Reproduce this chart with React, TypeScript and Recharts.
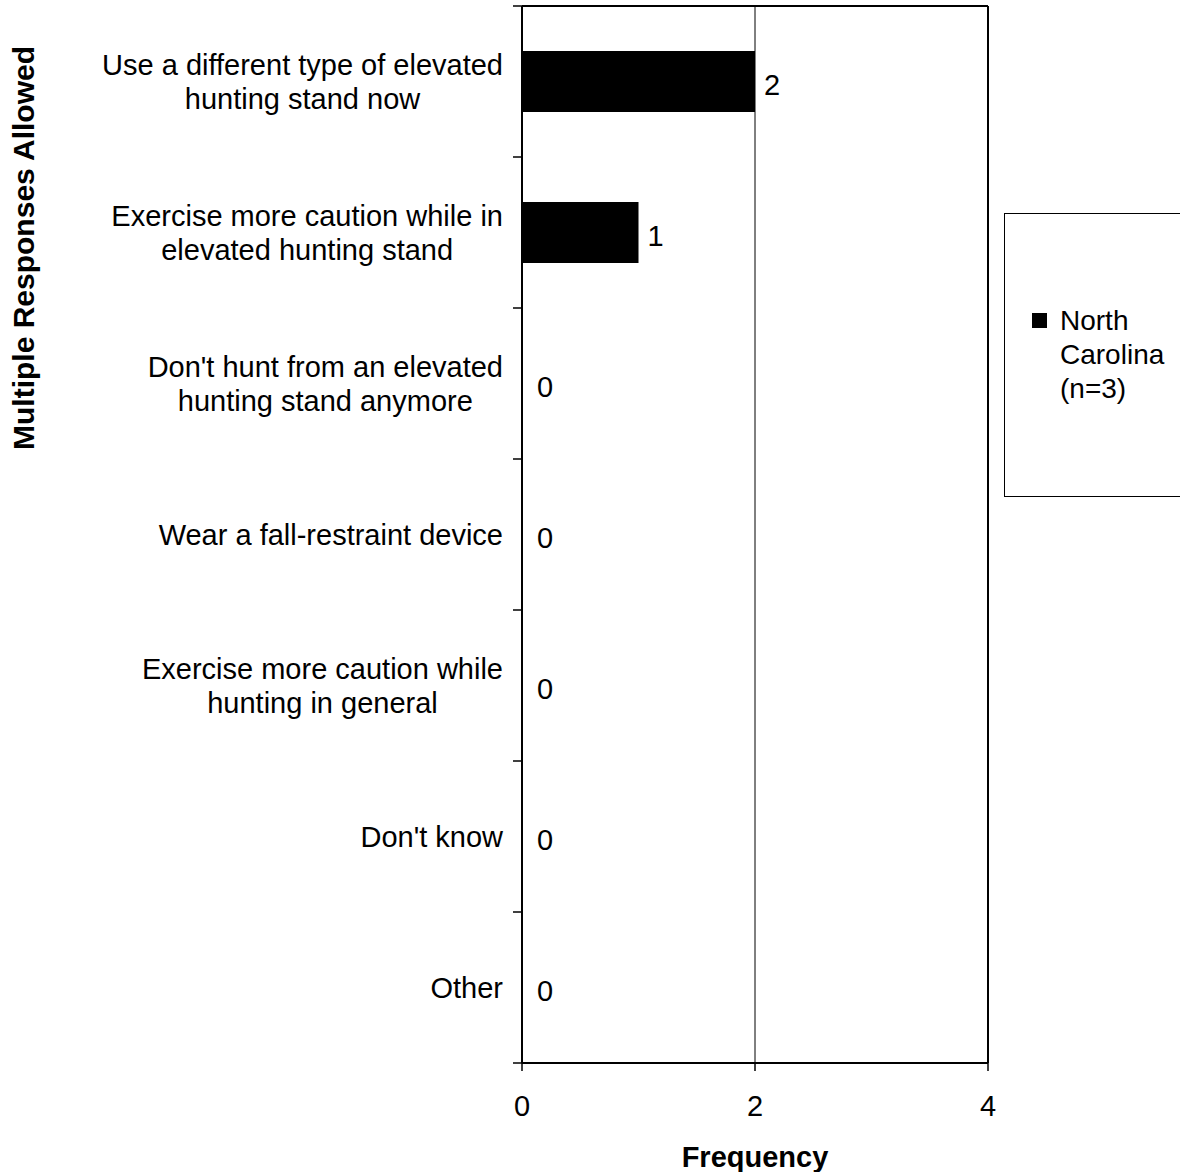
import React from "react";
import {
  BarChart,
  Bar,
  XAxis,
  YAxis,
  CartesianGrid,
  Legend,
  LabelList,
} from "recharts";

const categories = [
  "Use a different type of elevated\nhunting stand now",
  "Exercise more caution while in\nelevated hunting stand",
  "Don't hunt from an elevated\nhunting stand anymore",
  "Wear a fall-restraint device",
  "Exercise more caution while\nhunting in general",
  "Don't know",
  "Other",
];
const northCarolina = [2, 1, 0, 0, 0, 0, 0];
const xTicks = [0, 2, 4];

const seriesName = "North Carolina (n=3)";
const FONT = "Liberation Sans, Arial, sans-serif";

const data = categories.map((name, i) => ({ name, nc: northCarolina[i] }));

let ctx: CanvasRenderingContext2D | null = null;
function textWidth(t: string, size: number) {
  if (!ctx) ctx = document.createElement("canvas").getContext("2d");
  if (!ctx) return t.length * size * 0.5;
  ctx.font = `${size}px "Liberation Sans"`;
  return ctx.measureText(t).width;
}

/** category label + tick mark on the band boundary */
function CategoryTick(props: any) {
  const { x, y, payload, index, visibleTicksCount } = props;
  const half = payload.offset ?? 75.5;
  const lines = String(payload.value).split("\n");
  const size = 29;
  const lh = 34;
  const maxW = Math.max(...lines.map((l) => textWidth(l, size)));
  const cx = x - 19 - maxW / 2;
  const last = index === visibleTicksCount - 1;
  return (
    <g>
      <line x1={x - 9} x2={x} y1={y - half} y2={y - half} stroke="#000" strokeWidth={1.5} />
      {last && (
        <line x1={x - 9} x2={x} y1={y + half} y2={y + half} stroke="#000" strokeWidth={1.5} />
      )}
      {lines.map((l, i) => (
        <text
          key={i}
          x={cx}
          y={y + (i - (lines.length - 1) / 2) * lh + 10}
          textAnchor="middle"
          fontSize={size}
          fontFamily={FONT}
          fill="#000"
        >
          {l}
        </text>
      ))}
    </g>
  );
}

function ValueLabel(props: any) {
  const { x, y, width, height, value } = props;
  const gap = Number(value) === 0 ? 14 : 9;
  return (
    <text
      x={x + width + gap}
      y={y + height / 2 + 13}
      fontSize={29}
      fontFamily={FONT}
      fill="#000"
    >
      {value}
    </text>
  );
}

function LegendBox(props: any) {
  const { payload = [] } = props;
  return (
    <div
      style={{
        width: "100%",
        height: "100%",
        boxSizing: "border-box",
        border: "1px solid #000",
        display: "flex",
        alignItems: "center",
        fontFamily: FONT,
      }}
    >
      {payload.map((p: any) => (
        <div key={p.value} style={{ display: "flex", alignItems: "flex-start", marginLeft: 27 }}>
          <span
            style={{ width: 15, height: 15, background: p.color, marginTop: 9, marginRight: 13, flex: "none" }}
          />
          <span style={{ width: 125, fontSize: 28, lineHeight: "34px", color: "#000" }}>{p.value}</span>
        </div>
      ))}
    </div>
  );
}

export default function App() {
  return (
    <div style={{ width: 1180, height: 1172, overflow: "hidden", fontFamily: FONT }}>
      <style>{`body{margin:0}`}</style>
      <BarChart
        layout="vertical"
        width={1180}
        height={1172}
        data={data}
        margin={{ top: 5, right: 191, bottom: 0, left: 0 }}
      >
        <CartesianGrid horizontal={false} stroke="#000" strokeWidth={1} />
        <XAxis
          type="number"
          domain={[0, 4]}
          ticks={xTicks}
          height={109}
          axisLine={{ stroke: "#000", strokeWidth: 2 }}
          tickLine={{ stroke: "#000", strokeWidth: 1.5 }}
          tickSize={8}
          tickMargin={24}
          tick={{ fill: "#000", fontSize: 29, fontFamily: FONT }}
          label={{
            value: "Frequency",
            position: "insideBottom",
            offset: 5,
            fill: "#000",
            fontSize: 29,
            fontWeight: "bold",
            fontFamily: FONT,
          }}
        />
        <XAxis
          xAxisId="top"
          orientation="top"
          type="number"
          domain={[0, 4]}
          height={1}
          tick={false}
          tickLine={false}
          axisLine={{ stroke: "#000", strokeWidth: 2 }}
        />
        <YAxis
          type="category"
          dataKey="name"
          width={522}
          axisLine={{ stroke: "#000", strokeWidth: 2 }}
          tickLine={false}
          tickSize={0}
          tickMargin={0}
          interval={0}
          tick={<CategoryTick />}
          label={{
            content: (p: any) => {
              const vb = p.viewBox || { x: 0, y: 6 };
              return (
                <text
                  x={vb.x + 23}
                  y={vb.y + 242}
                  transform={`rotate(-90, ${vb.x + 23}, ${vb.y + 242})`}
                  textAnchor="middle"
                  dominantBaseline="central"
                  fontSize={30}
                  fontWeight="bold"
                  fontFamily={FONT}
                  fill="#000"
                >
                  Multiple Responses Allowed
                </text>
              );
            },
          }}
        />
        <YAxis
          yAxisId="right"
          orientation="right"
          type="category"
          dataKey="name"
          width={1}
          tick={false}
          tickLine={false}
          axisLine={{ stroke: "#000", strokeWidth: 2 }}
        />
        <Legend
          layout="horizontal"
          verticalAlign="middle"
          align="center"
          content={<LegendBox />}
          wrapperStyle={{ left: 1004, top: 213, width: 200, height: 284 }}
        />
        <Bar
          dataKey="nc"
          name={seriesName}
          fill="#000"
          barSize={61}
          minPointSize={1}
          legendType="square"
          isAnimationActive={false}
        >
          <LabelList dataKey="nc" content={<ValueLabel />} />
        </Bar>
      </BarChart>
    </div>
  );
}
